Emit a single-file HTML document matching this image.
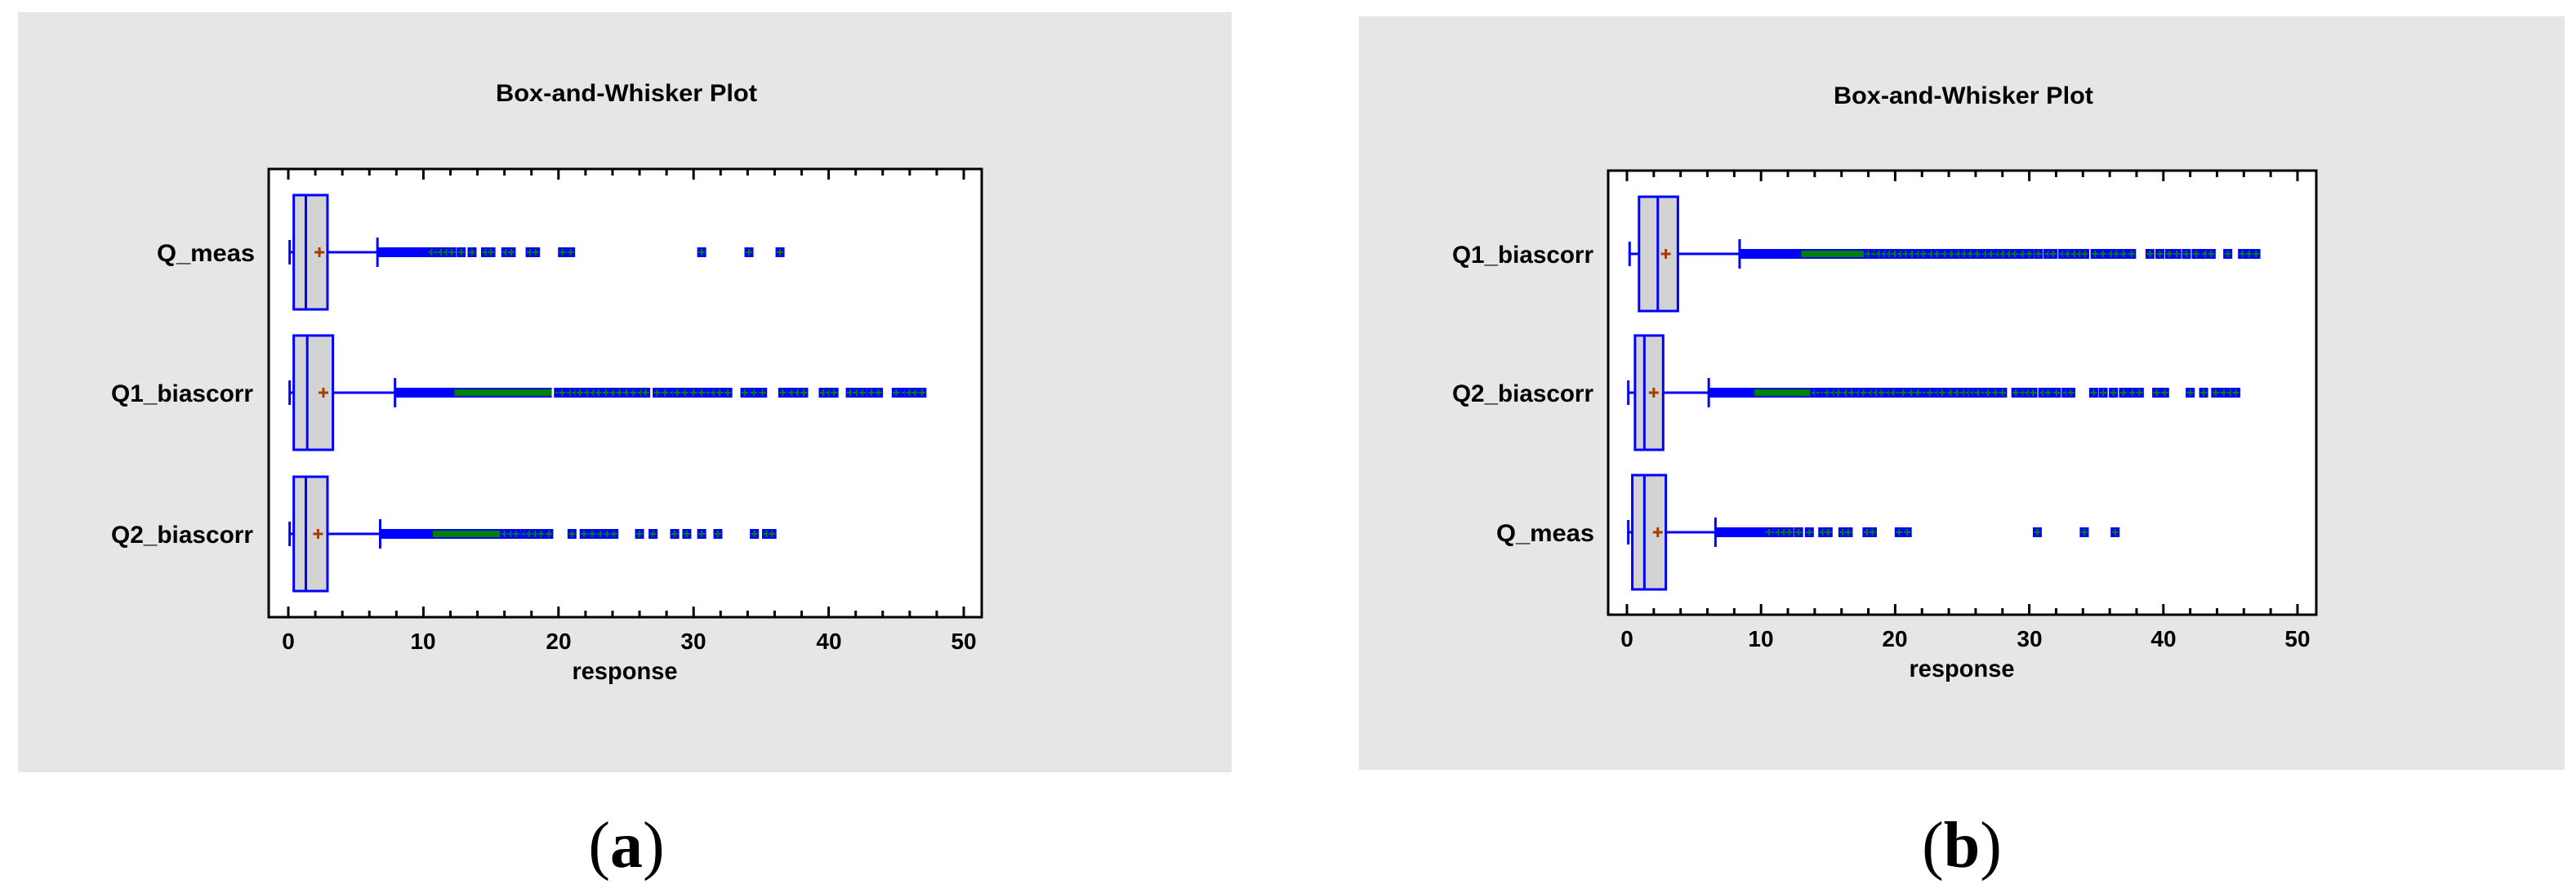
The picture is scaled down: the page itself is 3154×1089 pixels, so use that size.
<!DOCTYPE html>
<html><head><meta charset="utf-8"><style>
html,body{margin:0;padding:0;background:#fff;}
svg{display:block}
text{font-family:"Liberation Sans Narrow","Liberation Sans",sans-serif;fill:#000}
</style></head><body>
<svg id="s" width="3154" height="1089" viewBox="0 0 3154 1089" xmlns="http://www.w3.org/2000/svg">
<rect x="22" y="15" width="1486" height="931" fill="#e6e6e6"/>
<rect x="1664" y="20" width="1476" height="923" fill="#e6e6e6"/>
<rect x="329" y="207" width="873" height="549" fill="#fff" stroke="#000" stroke-width="3"/>
<rect x="1969" y="209" width="867" height="544" fill="#fff" stroke="#000" stroke-width="3"/>
<g id="g"></g>
<g font-weight="bold">
<text x="767" y="124" font-size="30" text-anchor="middle" textLength="320" lengthAdjust="spacingAndGlyphs">Box-and-Whisker Plot</text>
<text x="2404" y="127" font-size="30" text-anchor="middle" textLength="318" lengthAdjust="spacingAndGlyphs">Box-and-Whisker Plot</text>
<text x="312" y="320" font-size="30" text-anchor="end" textLength="120" lengthAdjust="spacingAndGlyphs">Q_meas</text>
<text x="310" y="492" font-size="30" text-anchor="end" textLength="174" lengthAdjust="spacingAndGlyphs">Q1_biascorr</text>
<text x="310" y="665" font-size="30" text-anchor="end" textLength="174" lengthAdjust="spacingAndGlyphs">Q2_biascorr</text>
<text x="1951" y="322" font-size="30" text-anchor="end" textLength="173" lengthAdjust="spacingAndGlyphs">Q1_biascorr</text>
<text x="1951" y="492" font-size="30" text-anchor="end" textLength="173" lengthAdjust="spacingAndGlyphs">Q2_biascorr</text>
<text x="1952" y="663" font-size="30" text-anchor="end" textLength="120" lengthAdjust="spacingAndGlyphs">Q_meas</text>
<g font-size="28" text-anchor="middle">
<text x="353" y="795">0</text><text x="518" y="795">10</text><text x="684" y="795">20</text><text x="849" y="795">30</text><text x="1015" y="795">40</text><text x="1180" y="795">50</text>
<text x="1992" y="792">0</text><text x="2156" y="792">10</text><text x="2320" y="792">20</text><text x="2485" y="792">30</text><text x="2649" y="792">40</text><text x="2813" y="792">50</text>
</g>
<text x="765" y="832" font-size="30" text-anchor="middle" textLength="129" lengthAdjust="spacingAndGlyphs">response</text>
<text x="2402" y="829" font-size="30" text-anchor="middle" textLength="129" lengthAdjust="spacingAndGlyphs">response</text>
</g>
<text x="767" y="1062" font-size="80" text-anchor="middle" style="font-family:'Liberation Serif',serif">(<tspan font-weight="bold">a</tspan>)</text>
<text x="2402" y="1062" font-size="80" text-anchor="middle" style="font-family:'Liberation Serif',serif">(<tspan font-weight="bold">b</tspan>)</text>
</svg>
<script>
var NS="http://www.w3.org/2000/svg",G=document.getElementById("g");
function el(t,a){var e=document.createElementNS(NS,t);for(var k in a)e.setAttribute(k,a[k]);G.appendChild(e);return e;}
var seed=7;function rnd(){seed=(seed*16807)%2147483647;return seed/2147483647;}
function axes(x0,sc,top,bot){
 for(var v=0;v<=50;v+=2){var x=x0+v*sc,L=(v%10==0)?13:8;
  el("line",{x1:x,y1:top,x2:x,y2:top+L,stroke:"#000","stroke-width":3});
  el("line",{x1:x,y1:bot,x2:x,y2:bot-L,stroke:"#000","stroke-width":3});}
}
function mk(x,y){el("rect",{x:x-5.5,y:y-6,width:11,height:12,fill:"#0000ff"});
 el("line",{x1:x-4,y1:y,x2:x+4,y2:y,stroke:"#008000","stroke-width":2});
 el("line",{x1:x,y1:y-4,x2:x,y2:y+4,stroke:"#008000","stroke-width":2});}
function row(x0,sc,y,r){
 var X=function(v){return x0+v*sc;};
 el("line",{x1:X(r.lo),y1:y,x2:X(r.q1),y2:y,stroke:"#0000ff","stroke-width":3});
 el("line",{x1:X(r.lo),y1:y-15,x2:X(r.lo),y2:y+15,stroke:"#0000ff","stroke-width":3});
 el("line",{x1:X(r.q3),y1:y,x2:X(r.hi),y2:y,stroke:"#0000ff","stroke-width":3});
 el("rect",{x:X(r.q1),y:y-70,width:X(r.q3)-X(r.q1),height:140,fill:"#d3d3d3",stroke:"#0000ff","stroke-width":3});
 el("line",{x1:X(r.med),y1:y-70,x2:X(r.med),y2:y+70,stroke:"#0000ff","stroke-width":3});
 el("line",{x1:X(r.mean)-6,y1:y,x2:X(r.mean)+6,y2:y,stroke:"#a33f00","stroke-width":3});
 el("line",{x1:X(r.mean),y1:y-6,x2:X(r.mean),y2:y+6,stroke:"#a33f00","stroke-width":3});
 el("rect",{x:X(r.hi)-1,y:y-6,width:X(r.b)-X(r.hi)+6,height:12,fill:"#0000ff"});
 if(r.gr){el("rect",{x:X(r.b),y:y-6,width:X(r.gr)-X(r.b),height:12,fill:"#0000ff"});
  el("rect",{x:X(r.b),y:y-4,width:X(r.gr)-X(r.b),height:8,fill:"#008000"});}
 el("line",{x1:X(r.hi),y1:y-18,x2:X(r.hi),y2:y+18,stroke:"#0000ff","stroke-width":3});
 (r.pts||[]).forEach(function(v){mk(X(v),y);});
 (r.rng||[]).forEach(function(g){for(var v=g[0];v<=g[1];v+=g[2]*(0.6+0.8*rnd()))mk(X(v),y);});
}
var qm={lo:0.1,q1:0.4,q3:2.9,med:1.3,mean:2.3,hi:6.6,b:10.3,
 pts:[10.6,11,11.3,11.7,12.1,12.8,13.6,14.6,15,16.1,16.5,17.9,18.3,20.3,20.9,30.6,34.1,36.4]};
axes(353,16.54,207,756);
row(353,16.54,309,qm);
row(353,16.54,481,{lo:0.1,q1:0.4,q3:3.3,med:1.4,mean:2.6,hi:7.9,b:12.3,gr:19.5,
 rng:[[20,26.8,0.45],[27.3,29.6,0.5],[30,32.6,0.45],[33.8,35.6,0.6],[36.6,38.6,0.5],[39.6,40.6,0.5],[41.6,44.2,0.5],[45,47.1,0.5]]});
row(353,16.54,654,{lo:0.1,q1:0.4,q3:2.9,med:1.3,mean:2.2,hi:6.8,b:10.7,gr:16,
 rng:[[16,19.8,0.5]],pts:[21,21.9,22.5,23.1,23.6,24.1,26,27,28.6,29.5,30.6,31.8,34.5,35.4,35.8]});
axes(1992,16.42,209,753);
row(1992,16.42,311,{lo:0.2,q1:0.9,q3:3.8,med:2.3,mean:2.9,hi:8.4,b:13,gr:18,
 rng:[[18,29,0.45],[29.5,32,0.55],[32.5,35,0.55],[35.5,38,0.55],[39,40.5,0.55],[41,43.6,0.55]],pts:[44.8,45.9,46.4,46.9]});
row(1992,16.42,481,{lo:0.1,q1:0.6,q3:2.7,med:1.3,mean:2.0,hi:6.1,b:9.5,gr:14,
 rng:[[14,28.5,0.45],[29,33.8,0.55],[34.8,38.5,0.55],[39.5,40.3,0.5]],pts:[42,43,43.9,44.5,45,45.4]});
row(1992,16.42,652,qm);
</script>
</body></html>
